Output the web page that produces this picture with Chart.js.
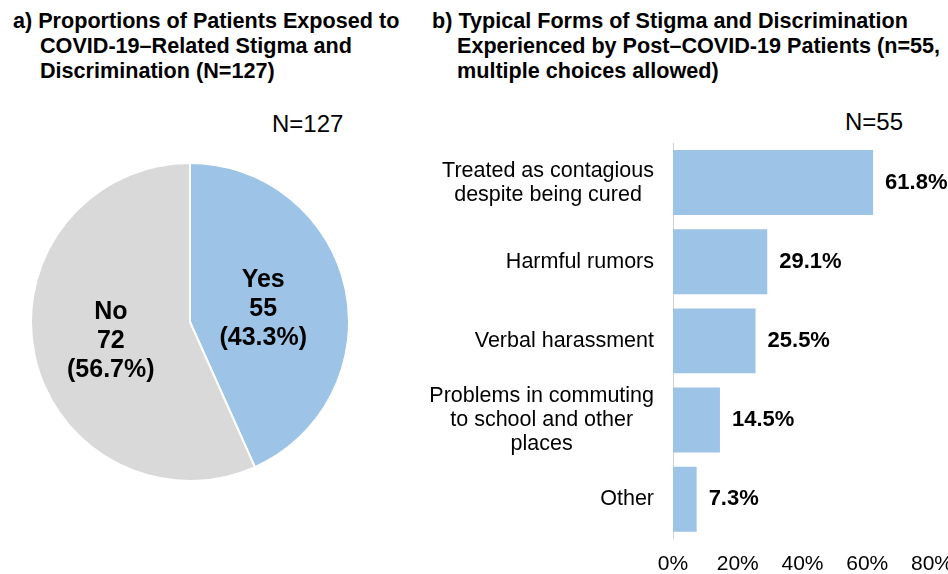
<!DOCTYPE html>
<html><head><meta charset="utf-8">
<script src="https://cdn.jsdelivr.net/npm/chart.js@4/dist/chart.umd.min.js"></script>
<style>
html,body{margin:0;padding:0;background:#fff;width:948px;height:574px;overflow:hidden;position:relative;font-family:"Liberation Sans",Arial,sans-serif;color:#000}
.title{position:absolute;font-weight:bold;font-size:21.6px;line-height:25px;white-space:nowrap}
.n{position:absolute;font-size:24px;line-height:28px;white-space:nowrap}
#pie{position:absolute;left:30px;top:162px}
#bar{position:absolute;left:400px;top:130px}
</style></head><body>
<div class="title" style="left:13px;top:8px;padding-left:27px;text-indent:-27px">a) Proportions of Patients Exposed to<br>COVID-19–Related Stigma and<br>Discrimination (N=127)</div>
<div class="title" style="left:432px;top:8px;padding-left:25px;text-indent:-25px">b) Typical Forms of Stigma and Discrimination<br>Experienced by Post–COVID-19 Patients (n=55,<br>multiple choices allowed)</div>
<div class="n" style="left:272px;top:110px">N=127</div>
<div class="n" style="left:845px;top:108px">N=55</div>
<canvas id="pie" width="320" height="320"></canvas>
<canvas id="bar" width="600" height="473"></canvas>
<script>
const pieLabels = ['Yes', 'No'];
const pieCounts = [55, 72];

const barCategories = [
  ['Treated as contagious', 'despite being cured'],
  ['Harmful rumors'],
  ['Verbal harassment'],
  ['Problems in commuting', 'to school and other', 'places'],
  ['Other']
];
const barValues = [61.8, 29.1, 25.5, 14.5, 7.3];
const xTicks = [0, 20, 40, 60, 80];

const FONT = '"Liberation Sans", Arial, sans-serif';
Chart.defaults.font.family = FONT;
Chart.defaults.color = '#000';

const pieLabelPlugin = {
  id: 'pieLabels',
  afterDatasetsDraw(chart) {
    const ctx = chart.ctx;
    const meta = chart.getDatasetMeta(0);
    const total = pieCounts.reduce((a, b) => a + b, 0);
    meta.data.forEach((arc, i) => {
      const p = arc.getProps(['x', 'y', 'startAngle', 'endAngle', 'outerRadius'], true);
      const mid = (p.startAngle + p.endAngle) / 2;
      const r = p.outerRadius * 0.49;
      const cx = p.x + Math.cos(mid) * r - 3, cy = p.y + Math.sin(mid) * r + 3;
      const lines = [pieLabels[i], String(pieCounts[i]), '(' + (pieCounts[i] / total * 100).toFixed(1) + '%)'];
      ctx.save();
      ctx.font = 'bold 25px ' + FONT;
      ctx.fillStyle = '#000';
      ctx.textAlign = 'center';
      ctx.textBaseline = 'middle';
      const lh = 29;
      lines.forEach((t, k) => ctx.fillText(t, cx, cy + (k - 1) * lh));
      ctx.restore();
    });
  }
};

new Chart(document.getElementById('pie'), {
  type: 'pie',
  data: {
    labels: pieLabels,
    datasets: [{
      data: pieCounts,
      backgroundColor: ['#9DC3E6', '#D9D9D9'],
      borderColor: '#ffffff',
      borderWidth: 2
    }]
  },
  options: {
    responsive: false,
    animation: false,
    layout: { padding: 0 },
    plugins: { legend: { display: false }, tooltip: { enabled: false } }
  },
  plugins: [pieLabelPlugin]
});

const catLabelPlugin = {
  id: 'catLabels',
  afterDraw(chart) {
    const s = chart.scales.y;
    const ctx = chart.ctx;
    ctx.save();
    ctx.font = '21.5px ' + FONT;
    ctx.fillStyle = '#000';
    ctx.textAlign = 'center';
    ctx.textBaseline = 'middle';
    const R = chart.chartArea.left - 19;
    const lh = 24;
    barCategories.forEach((lines, i) => {
      const y = s.getPixelForTick(i);
      const w = Math.max(...lines.map(t => ctx.measureText(t).width));
      const cx = R - w / 2;
      lines.forEach((t, k) => ctx.fillText(t, cx, y + (k - (lines.length - 1) / 2) * lh));
    });
    ctx.restore();
  }
};

const barValuePlugin = {
  id: 'barValues',
  afterDatasetsDraw(chart) {
    const ctx = chart.ctx;
    const meta = chart.getDatasetMeta(0);
    ctx.save();
    ctx.font = 'bold 22px ' + FONT;
    ctx.fillStyle = '#000';
    ctx.textAlign = 'left';
    ctx.textBaseline = 'middle';
    meta.data.forEach((bar, i) => {
      const p = bar.getProps(['x', 'y'], true);
      ctx.fillText(barValues[i].toFixed(1) + '%', p.x + 12, p.y);
    });
    ctx.restore();
  }
};

new Chart(document.getElementById('bar'), {
  type: 'bar',
  data: {
    labels: barCategories,
    datasets: [{
      data: barValues,
      backgroundColor: '#9DC3E6',
      barPercentage: 0.82,
      categoryPercentage: 1
    }]
  },
  options: {
    indexAxis: 'y',
    responsive: false,
    animation: false,
    layout: { padding: { top: 13, right: 68, bottom: 13, left: 0 } },
    plugins: { legend: { display: false }, tooltip: { enabled: false } },
    scales: {
      x: {
        min: 0, max: 80,
        afterBuildTicks: s => { s.ticks = xTicks.map(v => ({ value: v })); },
        ticks: { callback: v => v + '%', font: { size: 21 }, color: '#000', padding: 13, maxRotation: 0, autoSkip: false },
        grid: { display: false, drawTicks: false },
        border: { display: false }
      },
      y: {
        ticks: { display: false },
        grid: { display: false, drawTicks: false },
        border: { display: true, color: '#d0d0d0', width: 1 },
        afterFit: s => { s.width = 273; }
      }
    }
  },
  plugins: [catLabelPlugin, barValuePlugin]
});
</script>
</body></html>
